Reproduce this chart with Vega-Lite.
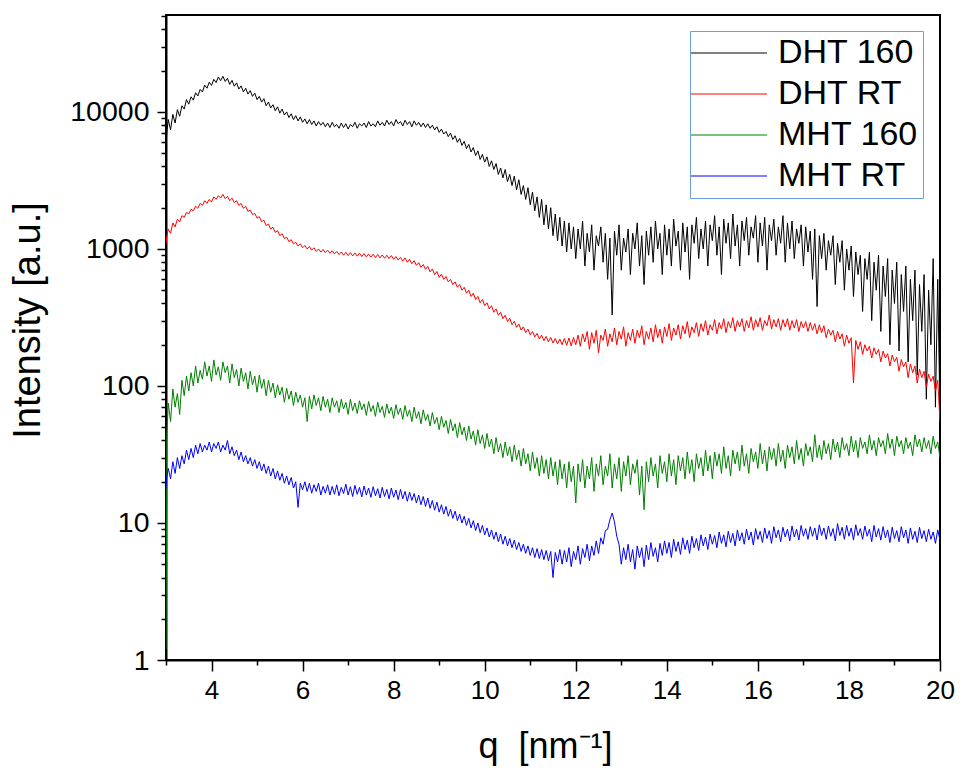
{
"$schema": "https://vega.github.io/schema/vega-lite/v6.json",
"width": 774, "height": 645,
"autosize": "none",
"padding": {"left": 166, "top": 15, "right": 36, "bottom": 111},
"background": "white",
"data": {"values": [
{"q":3.00,"a":6000,"b":1100,"c":1.2,"d":18},
{"q":3.02,"a":7200,"b":1250,"c":45,"d":22},
{"q":3.05,"a":8800,"b":1400,"c":75,"d":25},
{"q":3.10,"a":7400,"b":1300,"c":55,"d":21},
{"q":3.15,"a":9600,"b":1550,"c":95,"d":28},
{"q":3.20,"a":8300,"b":1450,"c":70,"d":23},
{"q":3.25,"a":10400,"b":1650,"c":88,"d":30},
{"q":3.30,"a":9300,"b":1580,"c":62,"d":25},
{"q":3.35,"a":11100,"b":1750,"c":110,"d":31},
{"q":3.40,"a":10500,"b":1700,"c":85,"d":27},
{"q":3.45,"a":12300,"b":1850,"c":118,"d":34},
{"q":3.50,"a":11400,"b":1800,"c":92,"d":29},
{"q":3.55,"a":12900,"b":1950,"c":125,"d":35},
{"q":3.60,"a":12200,"b":1900,"c":100,"d":30},
{"q":3.65,"a":13800,"b":2050,"c":140,"d":37},
{"q":3.70,"a":13100,"b":1980,"c":105,"d":32},
{"q":3.75,"a":14600,"b":2150,"c":130,"d":38},
{"q":3.80,"a":14000,"b":2080,"c":112,"d":33},
{"q":3.85,"a":15700,"b":2250,"c":150,"d":37},
{"q":3.90,"a":14900,"b":2150,"c":118,"d":34},
{"q":3.95,"a":16500,"b":2300,"c":140,"d":39},
{"q":4.00,"a":15600,"b":2200,"c":108,"d":33},
{"q":4.05,"a":17300,"b":2400,"c":155,"d":38},
{"q":4.10,"a":16400,"b":2300,"c":120,"d":35},
{"q":4.15,"a":18000,"b":2450,"c":138,"d":39},
{"q":4.20,"a":16900,"b":2350,"c":110,"d":33},
{"q":4.25,"a":18200,"b":2500,"c":150,"d":37},
{"q":4.30,"a":16700,"b":2330,"c":125,"d":34},
{"q":4.35,"a":17600,"b":2420,"c":140,"d":40},
{"q":4.40,"a":15900,"b":2250,"c":105,"d":32},
{"q":4.45,"a":17000,"b":2350,"c":145,"d":36},
{"q":4.50,"a":15400,"b":2180,"c":115,"d":31},
{"q":4.55,"a":16300,"b":2250,"c":132,"d":34},
{"q":4.60,"a":14700,"b":2080,"c":100,"d":29},
{"q":4.65,"a":15500,"b":2150,"c":135,"d":33},
{"q":4.70,"a":14000,"b":1980,"c":108,"d":28},
{"q":4.75,"a":14900,"b":2050,"c":125,"d":31},
{"q":4.80,"a":13500,"b":1880,"c":95,"d":27},
{"q":4.85,"a":14300,"b":1920,"c":128,"d":30},
{"q":4.90,"a":13000,"b":1780,"c":102,"d":26},
{"q":4.95,"a":13700,"b":1820,"c":118,"d":29},
{"q":5.00,"a":12300,"b":1680,"c":90,"d":25},
{"q":5.05,"a":13000,"b":1720,"c":120,"d":28},
{"q":5.10,"a":11800,"b":1580,"c":96,"d":24},
{"q":5.15,"a":12500,"b":1620,"c":112,"d":27},
{"q":5.20,"a":11100,"b":1480,"c":85,"d":23},
{"q":5.25,"a":11800,"b":1520,"c":110,"d":26},
{"q":5.30,"a":10700,"b":1400,"c":90,"d":22},
{"q":5.35,"a":11300,"b":1440,"c":105,"d":25},
{"q":5.40,"a":10200,"b":1320,"c":82,"d":21},
{"q":5.45,"a":10900,"b":1360,"c":102,"d":24},
{"q":5.50,"a":9800,"b":1250,"c":86,"d":20.5},
{"q":5.55,"a":10500,"b":1290,"c":98,"d":23},
{"q":5.60,"a":9500,"b":1190,"c":76,"d":19.5},
{"q":5.65,"a":10000,"b":1220,"c":96,"d":22},
{"q":5.70,"a":9100,"b":1130,"c":80,"d":19},
{"q":5.75,"a":9700,"b":1170,"c":92,"d":21.5},
{"q":5.80,"a":8800,"b":1090,"c":72,"d":18},
{"q":5.85,"a":9400,"b":1120,"c":90,"d":20},
{"q":5.90,"a":8600,"b":1050,"c":76,"d":13},
{"q":5.95,"a":9200,"b":1090,"c":86,"d":19.5},
{"q":6.00,"a":8400,"b":1020,"c":70,"d":17.5},
{"q":6.05,"a":8900,"b":1060,"c":82,"d":20},
{"q":6.10,"a":8200,"b":1000,"c":55,"d":17},
{"q":6.15,"a":8800,"b":1040,"c":84,"d":19.5},
{"q":6.20,"a":8100,"b":980,"c":68,"d":16.5},
{"q":6.25,"a":8600,"b":1020,"c":86,"d":19},
{"q":6.30,"a":7900,"b":960,"c":72,"d":17},
{"q":6.35,"a":8500,"b":1000,"c":82,"d":19.5},
{"q":6.40,"a":8000,"b":950,"c":66,"d":16},
{"q":6.45,"a":8400,"b":990,"c":84,"d":18.5},
{"q":6.50,"a":7800,"b":940,"c":70,"d":16.5},
{"q":6.55,"a":8300,"b":980,"c":80,"d":19},
{"q":6.60,"a":7700,"b":930,"c":64,"d":16},
{"q":6.65,"a":8400,"b":970,"c":82,"d":18.5},
{"q":6.70,"a":7800,"b":920,"c":70,"d":16.2},
{"q":6.75,"a":8100,"b":960,"c":78,"d":19},
{"q":6.80,"a":7600,"b":910,"c":64,"d":15.8},
{"q":6.85,"a":8300,"b":950,"c":80,"d":18.2},
{"q":6.90,"a":7700,"b":900,"c":68,"d":16.4},
{"q":6.95,"a":8200,"b":945,"c":76,"d":19.2},
{"q":7.00,"a":7500,"b":895,"c":62,"d":16},
{"q":7.05,"a":8100,"b":940,"c":80,"d":18.4},
{"q":7.10,"a":7800,"b":890,"c":66,"d":15.6},
{"q":7.15,"a":8400,"b":935,"c":75,"d":18.8},
{"q":7.20,"a":7600,"b":885,"c":63,"d":16.2},
{"q":7.25,"a":8200,"b":930,"c":78,"d":18.2},
{"q":7.30,"a":7900,"b":880,"c":67,"d":15.5},
{"q":7.35,"a":8300,"b":925,"c":74,"d":18.6},
{"q":7.40,"a":7700,"b":875,"c":61,"d":16},
{"q":7.45,"a":8500,"b":920,"c":77,"d":18},
{"q":7.50,"a":7900,"b":870,"c":65,"d":15.4},
{"q":7.55,"a":8200,"b":915,"c":72,"d":18.4},
{"q":7.60,"a":7800,"b":865,"c":60,"d":15.8},
{"q":7.65,"a":8600,"b":910,"c":76,"d":17.8},
{"q":7.70,"a":8000,"b":860,"c":64,"d":15.2},
{"q":7.75,"a":8400,"b":905,"c":71,"d":18.2},
{"q":7.80,"a":7900,"b":855,"c":59,"d":15.6},
{"q":7.85,"a":8700,"b":900,"c":74,"d":17.6},
{"q":7.90,"a":8100,"b":850,"c":63,"d":15},
{"q":7.95,"a":8500,"b":895,"c":70,"d":18},
{"q":8.00,"a":7900,"b":840,"c":58,"d":15.4},
{"q":8.05,"a":8800,"b":880,"c":73,"d":17.4},
{"q":8.10,"a":8200,"b":830,"c":62,"d":14.8},
{"q":8.15,"a":8500,"b":870,"c":69,"d":17.6},
{"q":8.20,"a":7900,"b":815,"c":57,"d":15},
{"q":8.25,"a":8700,"b":860,"c":72,"d":17},
{"q":8.30,"a":8100,"b":800,"c":60,"d":14.4},
{"q":8.35,"a":8500,"b":840,"c":67,"d":16.8},
{"q":8.40,"a":7800,"b":780,"c":55,"d":14.6},
{"q":8.45,"a":8600,"b":820,"c":70,"d":16.4},
{"q":8.50,"a":8000,"b":760,"c":58,"d":14},
{"q":8.55,"a":8400,"b":795,"c":65,"d":16},
{"q":8.60,"a":7800,"b":735,"c":53,"d":13.6},
{"q":8.65,"a":8300,"b":770,"c":67,"d":15.6},
{"q":8.70,"a":7700,"b":710,"c":56,"d":13.2},
{"q":8.75,"a":8200,"b":745,"c":62,"d":15.2},
{"q":8.80,"a":7600,"b":680,"c":51,"d":12.8},
{"q":8.85,"a":8000,"b":715,"c":64,"d":14.6},
{"q":8.90,"a":7400,"b":650,"c":53,"d":12.4},
{"q":8.95,"a":7800,"b":685,"c":59,"d":14.2},
{"q":9.00,"a":7100,"b":620,"c":48,"d":12},
{"q":9.05,"a":7500,"b":655,"c":60,"d":13.6},
{"q":9.10,"a":6900,"b":600,"c":50,"d":11.6},
{"q":9.15,"a":7200,"b":630,"c":56,"d":13.2},
{"q":9.20,"a":6600,"b":575,"c":45,"d":11.2},
{"q":9.25,"a":7000,"b":600,"c":57,"d":12.6},
{"q":9.30,"a":6300,"b":550,"c":47,"d":10.8},
{"q":9.35,"a":6700,"b":575,"c":53,"d":12.2},
{"q":9.40,"a":6000,"b":525,"c":42,"d":10.4},
{"q":9.45,"a":6400,"b":550,"c":54,"d":11.6},
{"q":9.50,"a":5700,"b":500,"c":44,"d":10},
{"q":9.55,"a":6100,"b":525,"c":50,"d":11.2},
{"q":9.60,"a":5400,"b":475,"c":40,"d":9.6},
{"q":9.65,"a":5800,"b":500,"c":51,"d":10.8},
{"q":9.70,"a":5100,"b":450,"c":41,"d":9.2},
{"q":9.75,"a":5500,"b":475,"c":47,"d":10.4},
{"q":9.80,"a":4800,"b":428,"c":37,"d":8.8},
{"q":9.85,"a":5200,"b":450,"c":48,"d":10},
{"q":9.90,"a":4500,"b":405,"c":38,"d":8.5},
{"q":9.95,"a":4900,"b":428,"c":44,"d":9.6},
{"q":10.00,"a":4300,"b":385,"c":35,"d":8.2},
{"q":10.05,"a":4700,"b":405,"c":45,"d":9.2},
{"q":10.10,"a":4000,"b":365,"c":36,"d":7.9},
{"q":10.15,"a":4400,"b":385,"c":41,"d":8.9},
{"q":10.20,"a":3800,"b":345,"c":32,"d":7.6},
{"q":10.25,"a":4200,"b":365,"c":42,"d":8.6},
{"q":10.30,"a":3500,"b":328,"c":33,"d":7.3},
{"q":10.35,"a":3900,"b":345,"c":38,"d":8.3},
{"q":10.40,"a":3300,"b":310,"c":30,"d":7.0},
{"q":10.45,"a":3800,"b":328,"c":39,"d":8.0},
{"q":10.50,"a":3100,"b":295,"c":31,"d":6.8},
{"q":10.55,"a":3500,"b":312,"c":36,"d":7.7},
{"q":10.60,"a":2900,"b":280,"c":28,"d":6.6},
{"q":10.65,"a":3400,"b":297,"c":37,"d":7.5},
{"q":10.70,"a":2700,"b":268,"c":29,"d":6.4},
{"q":10.75,"a":3200,"b":283,"c":34,"d":7.2},
{"q":10.80,"a":2500,"b":256,"c":26,"d":6.2},
{"q":10.85,"a":2900,"b":270,"c":35,"d":7.0},
{"q":10.90,"a":2300,"b":245,"c":27,"d":6.0},
{"q":10.95,"a":2800,"b":260,"c":32,"d":6.8},
{"q":11.00,"a":2100,"b":236,"c":24,"d":5.8},
{"q":11.05,"a":2600,"b":250,"c":33,"d":6.6},
{"q":11.10,"a":1900,"b":228,"c":25,"d":5.6},
{"q":11.15,"a":2400,"b":242,"c":30,"d":6.5},
{"q":11.20,"a":1700,"b":220,"c":22,"d":5.5},
{"q":11.25,"a":2300,"b":235,"c":31,"d":6.4},
{"q":11.30,"a":1500,"b":214,"c":23,"d":5.4},
{"q":11.35,"a":2100,"b":230,"c":29,"d":6.3},
{"q":11.40,"a":1400,"b":210,"c":21,"d":5.3},
{"q":11.45,"a":2000,"b":226,"c":30,"d":6.2},
{"q":11.50,"a":1250,"b":206,"c":22,"d":4.0},
{"q":11.55,"a":1800,"b":222,"c":28,"d":6.1},
{"q":11.60,"a":1150,"b":203,"c":19,"d":5.2},
{"q":11.65,"a":1700,"b":220,"c":29,"d":6.4},
{"q":11.70,"a":1050,"b":200,"c":21,"d":5.0},
{"q":11.75,"a":1600,"b":222,"c":27,"d":6.3},
{"q":11.80,"a":950,"b":198,"c":18,"d":5.2},
{"q":11.85,"a":1550,"b":224,"c":28,"d":6.6},
{"q":11.90,"a":1000,"b":196,"c":20,"d":4.8},
{"q":11.95,"a":1450,"b":226,"c":26,"d":6.2},
{"q":12.00,"a":850,"b":200,"c":14,"d":5.4},
{"q":12.05,"a":1400,"b":235,"c":27,"d":6.8},
{"q":12.10,"a":1000,"b":195,"c":20,"d":5.0},
{"q":12.15,"a":1600,"b":240,"c":29,"d":6.5},
{"q":12.20,"a":750,"b":210,"c":18,"d":5.6},
{"q":12.25,"a":1300,"b":250,"c":26,"d":7.0},
{"q":12.30,"a":950,"b":185,"c":21,"d":5.3},
{"q":12.35,"a":1500,"b":245,"c":30,"d":6.8},
{"q":12.40,"a":700,"b":205,"c":17,"d":5.8},
{"q":12.45,"a":1250,"b":255,"c":27,"d":7.4},
{"q":12.50,"a":1050,"b":175,"c":22,"d":6.0},
{"q":12.55,"a":1450,"b":235,"c":31,"d":7.8},
{"q":12.60,"a":800,"b":215,"c":19,"d":7.0},
{"q":12.65,"a":1300,"b":260,"c":26,"d":8.8},
{"q":12.70,"a":600,"b":195,"c":22,"d":9.0},
{"q":12.75,"a":1200,"b":240,"c":32,"d":10.6},
{"q":12.80,"a":330,"b":210,"c":18,"d":11.8},
{"q":12.85,"a":1350,"b":265,"c":27,"d":10.2},
{"q":12.90,"a":900,"b":200,"c":21,"d":8.0},
{"q":12.95,"a":1500,"b":250,"c":30,"d":7.0},
{"q":13.00,"a":700,"b":220,"c":17,"d":5.0},
{"q":13.05,"a":1200,"b":270,"c":28,"d":6.6},
{"q":13.10,"a":950,"b":195,"c":22,"d":5.4},
{"q":13.15,"a":1400,"b":245,"c":31,"d":7.0},
{"q":13.20,"a":650,"b":215,"c":19,"d":5.2},
{"q":13.25,"a":1300,"b":260,"c":27,"d":6.4},
{"q":13.30,"a":1000,"b":205,"c":23,"d":4.6},
{"q":13.35,"a":1550,"b":255,"c":29,"d":6.8},
{"q":13.40,"a":750,"b":225,"c":16,"d":5.6},
{"q":13.45,"a":1250,"b":275,"c":26,"d":6.6},
{"q":13.50,"a":550,"b":200,"c":12.5,"d":4.8},
{"q":13.55,"a":1350,"b":250,"c":28,"d":6.9},
{"q":13.60,"a":900,"b":220,"c":20,"d":5.4},
{"q":13.65,"a":1450,"b":265,"c":30,"d":7.2},
{"q":13.70,"a":800,"b":210,"c":22,"d":5.7},
{"q":13.75,"a":1600,"b":280,"c":27,"d":6.6},
{"q":13.80,"a":1000,"b":225,"c":18,"d":5.2},
{"q":13.85,"a":1300,"b":260,"c":31,"d":7.1},
{"q":13.90,"a":650,"b":205,"c":23,"d":5.8},
{"q":13.95,"a":1500,"b":270,"c":28,"d":7.4},
{"q":14.00,"a":900,"b":230,"c":20,"d":6.0},
{"q":14.05,"a":1400,"b":285,"c":32,"d":7.2},
{"q":14.10,"a":750,"b":215,"c":22,"d":5.6},
{"q":14.15,"a":1650,"b":265,"c":29,"d":7.6},
{"q":14.20,"a":1050,"b":235,"c":19,"d":6.2},
{"q":14.25,"a":1350,"b":280,"c":31,"d":7.3},
{"q":14.30,"a":700,"b":220,"c":24,"d":5.9},
{"q":14.35,"a":1550,"b":275,"c":30,"d":7.8},
{"q":14.40,"a":950,"b":240,"c":21,"d":6.4},
{"q":14.45,"a":1450,"b":295,"c":33,"d":7.5},
{"q":14.50,"a":600,"b":225,"c":23,"d":6.0},
{"q":14.55,"a":1500,"b":270,"c":29,"d":8.0},
{"q":14.60,"a":1100,"b":245,"c":20,"d":6.6},
{"q":14.65,"a":1700,"b":290,"c":32,"d":7.7},
{"q":14.70,"a":850,"b":230,"c":25,"d":6.3},
{"q":14.75,"a":1400,"b":285,"c":30,"d":8.2},
{"q":14.80,"a":1000,"b":250,"c":22,"d":6.8},
{"q":14.85,"a":1600,"b":300,"c":34,"d":7.9},
{"q":14.90,"a":750,"b":235,"c":24,"d":6.4},
{"q":14.95,"a":1500,"b":280,"c":31,"d":8.3},
{"q":15.00,"a":1150,"b":255,"c":21,"d":7.0},
{"q":15.05,"a":1750,"b":305,"c":33,"d":8.1},
{"q":15.10,"a":900,"b":240,"c":26,"d":6.6},
{"q":15.15,"a":1450,"b":290,"c":32,"d":8.6},
{"q":15.20,"a":650,"b":260,"c":23,"d":7.1},
{"q":15.25,"a":1650,"b":310,"c":36,"d":8.2},
{"q":15.30,"a":1100,"b":245,"c":25,"d":6.7},
{"q":15.35,"a":1550,"b":295,"c":31,"d":8.7},
{"q":15.40,"a":850,"b":265,"c":22,"d":7.2},
{"q":15.45,"a":1800,"b":315,"c":34,"d":8.4},
{"q":15.50,"a":1050,"b":250,"c":27,"d":6.8},
{"q":15.55,"a":1500,"b":300,"c":33,"d":8.9},
{"q":15.60,"a":750,"b":270,"c":24,"d":7.4},
{"q":15.65,"a":1600,"b":310,"c":37,"d":8.5},
{"q":15.70,"a":1150,"b":250,"c":26,"d":7.0},
{"q":15.75,"a":1700,"b":300,"c":32,"d":9.0},
{"q":15.80,"a":900,"b":265,"c":23,"d":7.5},
{"q":15.85,"a":1450,"b":320,"c":35,"d":8.6},
{"q":15.90,"a":1200,"b":255,"c":28,"d":6.9},
{"q":15.95,"a":1750,"b":305,"c":33,"d":9.1},
{"q":16.00,"a":800,"b":270,"c":25,"d":7.6},
{"q":16.05,"a":1550,"b":315,"c":38,"d":8.7},
{"q":16.10,"a":1050,"b":255,"c":27,"d":7.2},
{"q":16.15,"a":1700,"b":300,"c":34,"d":9.2},
{"q":16.20,"a":700,"b":275,"c":24,"d":7.7},
{"q":16.25,"a":1500,"b":330,"c":36,"d":8.8},
{"q":16.30,"a":1150,"b":260,"c":29,"d":7.1},
{"q":16.35,"a":1650,"b":305,"c":35,"d":9.4},
{"q":16.40,"a":900,"b":270,"c":26,"d":7.8},
{"q":16.45,"a":1450,"b":310,"c":38,"d":8.9},
{"q":16.50,"a":1100,"b":255,"c":28,"d":7.3},
{"q":16.55,"a":1750,"b":305,"c":34,"d":9.3},
{"q":16.60,"a":800,"b":270,"c":25,"d":7.9},
{"q":16.65,"a":1550,"b":310,"c":37,"d":9.0},
{"q":16.70,"a":1000,"b":255,"c":30,"d":7.4},
{"q":16.75,"a":1600,"b":300,"c":36,"d":9.5},
{"q":16.80,"a":850,"b":265,"c":27,"d":7.9},
{"q":16.85,"a":1400,"b":305,"c":40,"d":9.0},
{"q":16.90,"a":1100,"b":250,"c":29,"d":7.5},
{"q":16.95,"a":1500,"b":295,"c":35,"d":9.6},
{"q":17.00,"a":750,"b":265,"c":26,"d":8.0},
{"q":17.05,"a":1450,"b":295,"c":38,"d":9.1},
{"q":17.10,"a":950,"b":250,"c":31,"d":7.6},
{"q":17.15,"a":1350,"b":290,"c":36,"d":9.4},
{"q":17.20,"a":600,"b":255,"c":28,"d":8.0},
{"q":17.25,"a":1400,"b":285,"c":44,"d":9.2},
{"q":17.30,"a":380,"b":240,"c":30,"d":7.5},
{"q":17.35,"a":1250,"b":280,"c":37,"d":9.7},
{"q":17.40,"a":850,"b":245,"c":29,"d":8.1},
{"q":17.45,"a":1300,"b":275,"c":40,"d":9.2},
{"q":17.50,"a":700,"b":225,"c":32,"d":7.6},
{"q":17.55,"a":1150,"b":260,"c":38,"d":9.5},
{"q":17.60,"a":900,"b":235,"c":29,"d":8.0},
{"q":17.65,"a":1250,"b":255,"c":41,"d":9.1},
{"q":17.70,"a":550,"b":210,"c":33,"d":7.4},
{"q":17.75,"a":1100,"b":250,"c":39,"d":9.9},
{"q":17.80,"a":800,"b":220,"c":30,"d":8.1},
{"q":17.85,"a":1150,"b":240,"c":42,"d":9.3},
{"q":17.90,"a":500,"b":195,"c":34,"d":7.6},
{"q":17.95,"a":1000,"b":235,"c":38,"d":9.6},
{"q":18.00,"a":700,"b":205,"c":31,"d":8.0},
{"q":18.05,"a":1050,"b":225,"c":43,"d":9.2},
{"q":18.10,"a":450,"b":105,"c":33,"d":7.5},
{"q":18.15,"a":950,"b":215,"c":40,"d":9.7},
{"q":18.20,"a":650,"b":185,"c":30,"d":8.1},
{"q":18.25,"a":900,"b":210,"c":42,"d":9.1},
{"q":18.30,"a":350,"b":170,"c":35,"d":7.6},
{"q":18.35,"a":850,"b":200,"c":39,"d":9.5},
{"q":18.40,"a":600,"b":180,"c":32,"d":8.0},
{"q":18.45,"a":950,"b":195,"c":44,"d":9.0},
{"q":18.50,"a":300,"b":160,"c":34,"d":7.3},
{"q":18.55,"a":800,"b":190,"c":40,"d":9.6},
{"q":18.60,"a":500,"b":170,"c":31,"d":7.9},
{"q":18.65,"a":900,"b":185,"c":42,"d":9.1},
{"q":18.70,"a":250,"b":150,"c":36,"d":7.5},
{"q":18.75,"a":750,"b":180,"c":40,"d":9.4},
{"q":18.80,"a":450,"b":160,"c":32,"d":7.8},
{"q":18.85,"a":850,"b":172,"c":45,"d":8.9},
{"q":18.90,"a":200,"b":140,"c":35,"d":7.2},
{"q":18.95,"a":700,"b":168,"c":41,"d":9.3},
{"q":19.00,"a":400,"b":150,"c":31,"d":7.7},
{"q":19.05,"a":800,"b":162,"c":43,"d":8.8},
{"q":19.10,"a":180,"b":128,"c":36,"d":7.3},
{"q":19.15,"a":650,"b":156,"c":40,"d":9.4},
{"q":19.20,"a":350,"b":138,"c":32,"d":7.8},
{"q":19.25,"a":750,"b":150,"c":42,"d":8.9},
{"q":19.30,"a":150,"b":115,"c":35,"d":7.1},
{"q":19.35,"a":600,"b":145,"c":39,"d":9.2},
{"q":19.40,"a":300,"b":125,"c":31,"d":7.6},
{"q":19.45,"a":700,"b":140,"c":44,"d":8.7},
{"q":19.50,"a":120,"b":105,"c":36,"d":7.2},
{"q":19.55,"a":550,"b":133,"c":41,"d":9.3},
{"q":19.60,"a":250,"b":115,"c":33,"d":7.7},
{"q":19.65,"a":650,"b":128,"c":42,"d":8.8},
{"q":19.70,"a":80,"b":98,"c":35,"d":7.3},
{"q":19.75,"a":500,"b":122,"c":40,"d":9.0},
{"q":19.80,"a":200,"b":108,"c":32,"d":7.6},
{"q":19.85,"a":850,"b":118,"c":43,"d":8.6},
{"q":19.90,"a":70,"b":92,"c":35,"d":7.1},
{"q":19.95,"a":600,"b":110,"c":39,"d":8.9},
{"q":20.00,"a":60,"b":55,"c":30,"d":7.5}
]},
"transform": [{"fold": ["a", "b", "c", "d"], "as": ["series", "I"]}],
"mark": {"type": "line", "strokeWidth": 1, "clip": true},
"encoding": {
  "x": {"field": "q", "type": "quantitative",
        "scale": {"domain": [3, 20], "nice": false, "zero": false},
        "axis": {"title": "q\u00a0\u00a0[nm⁻¹]",
                 "values": [3,4,5,6,7,8,9,10,11,12,13,14,15,16,17,18,19,20],
                 "labelExpr": "datum.value % 2 == 0 ? datum.label : ''",
                 "tickSize": {"condition": {"test": "datum.value % 2 == 0", "value": 11}, "value": 5},
                 "labelFont": "Liberation Sans", "labelFontSize": 26, "labelPadding": 6,
                 "labelOverlap": false, "labelFlush": false,
                 "titleFont": "Liberation Sans", "titleFontSize": 36, "titleFontWeight": "normal",
                 "titleX": 379, "titleY": 97, "titleBaseline": "alphabetic", "titleAlign": "center"}},
  "y": {"field": "I", "type": "quantitative",
        "scale": {"type": "log", "domain": [1, 51000], "nice": false},
        "axis": {"title": "Intensity [a.u.]",
                 "values": [1,2,3,4,5,6,7,8,9,10,20,30,40,50,60,70,80,90,100,200,300,400,500,600,700,800,900,1000,2000,3000,4000,5000,6000,7000,8000,9000,10000,20000,30000,40000,50000],
                 "labelExpr": "indexof([1,10,100,1000,10000], datum.value) >= 0 ? format(datum.value, 'd') : ''",
                 "tickSize": {"condition": {"test": "indexof([1,10,100,1000,10000], datum.value) >= 0", "value": 9}, "value": 5},
                 "labelFont": "Liberation Sans", "labelFontSize": 28.5, "labelPadding": 8,
                 "labelOverlap": false, "labelFlush": false,
                 "titleFont": "Liberation Sans", "titleFontSize": 38, "titleFontWeight": "normal",
                 "titleX": -138, "titleY": 305, "titleAngle": -90, "titleBaseline": "middle", "titleAlign": "center"}},
  "color": {"field": "series", "type": "nominal",
            "scale": {"domain": ["a", "b", "c", "d"], "range": ["#000000", "#ff0000", "#008000", "#0000ff"]},
            "legend": {"title": null, "orient": "none", "legendX": 524, "legendY": 16,
                       "labelExpr": "datum.label == 'a' ? 'DHT 160' : datum.label == 'b' ? 'DHT RT' : datum.label == 'c' ? 'MHT 160' : 'MHT RT'",
                       "symbolType": "M-4,0H4", "symbolSize": 361, "symbolStrokeWidth": 1, "symbolOffset": 17,
                       "labelFont": "Liberation Sans", "labelFontSize": 34, "labelColor": "black",
                       "labelOffset": 32, "rowPadding": 7, "padding": 5,
                       "strokeColor": "#6a9ee6", "fillColor": "white"}}
},
"config": {
  "view": {"stroke": "black", "strokeWidth": 2},
  "axis": {"grid": false, "domainColor": "black", "domainWidth": 2, "tickColor": "black", "tickWidth": 1.5, "labelColor": "black", "titleColor": "black"}
}
}
